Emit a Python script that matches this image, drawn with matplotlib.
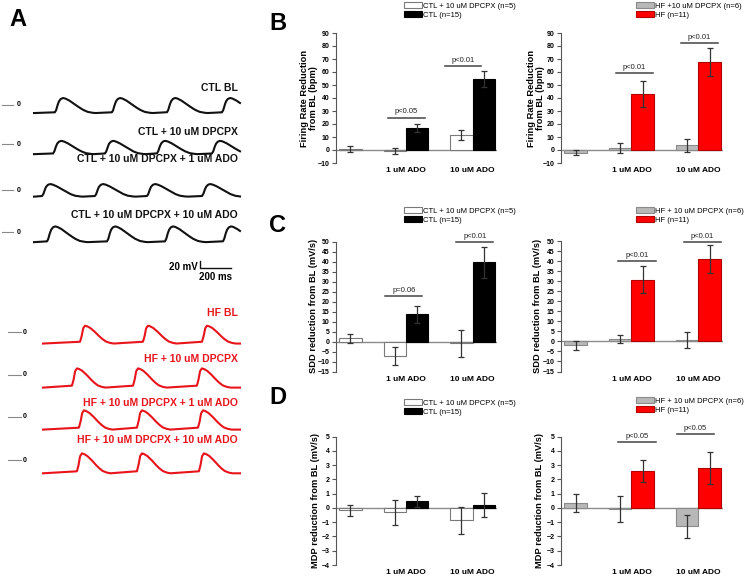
import numpy as np
import matplotlib.pyplot as plt
from matplotlib.patches import Patch

plt.rcParams['font.family'] = ['Liberation Sans', 'DejaVu Sans']

# ---------------- panel A data ----------------
ctl_labels = ["CTL BL", "CTL + 10 uM DPCPX", "CTL + 10 uM DPCPX + 1 uM ADO",
              "CTL + 10 uM DPCPX + 10 uM ADO"]
hf_labels = ["HF BL", "HF + 10 uM DPCPX", "HF + 10 uM DPCPX + 1 uM ADO",
             "HF + 10 uM DPCPX + 10 uM ADO"]

# one beat: ms after upstroke, fraction of amplitude
ctl_beat_t = [0, 8, 16, 26, 38, 52, 66, 90, 120, 150, 180, 210, 240, 260]
ctl_beat_v = [0.05, 0.2, 0.5, 0.78, 0.94, 1.0, 0.97, 0.85, 0.64, 0.42, 0.22, 0.08, 0.02, 0.0]
hf_beat_t = [0, 10, 20, 32, 45, 65, 90, 115, 140, 165, 190, 215]
hf_beat_v = [0.1, 0.4, 0.85, 1.0, 0.97, 0.88, 0.7, 0.48, 0.28, 0.12, 0.04, 0.0]

# upstroke times (ms from start of each trace)
ctl_onsets = [[135, 503, 858, 1213], [123, 458, 793, 1148],
              [52, 393, 729, 1084], [84, 471, 845, 1219]]
hf_onsets = [[239, 645, 1026], [187, 581, 993], [232, 606, 1000], [219, 606, 1006]]
ctl_mdp = [-23, -29, -19, -29]
ctl_peak = [20, 9, 17, 16]
hf_mdp = [-33, -36, -36, -38]
hf_peak = [18, 19, 19, 19]
ctl_dur = 1329
hf_dur = 1271

# ---------------- panel B-D data ----------------
groups = ["1 uM ADO", "10 uM ADO"]

fr_ctl_dpcpx = [1.0, -0.8, 11.5]
fr_ctl_dpcpx_err = [2.3, 2.0, 3.8]
fr_ctl = [17.0, 54.3]
fr_ctl_err = [3.3, 6.2]
fr_hf_dpcpx = [-2.0, 1.5, 3.6]
fr_hf_dpcpx_err = [2.0, 3.8, 4.9]
fr_hf = [42.9, 67.9]
fr_hf_err = [10.2, 10.7]

sdd_ctl_dpcpx = [1.7, -7.2, -0.8]
sdd_ctl_dpcpx_err = [2.2, 4.5, 6.7]
sdd_ctl = [13.7, 39.7]
sdd_ctl_err = [4.3, 7.8]
sdd_hf_dpcpx = [-2.0, 1.0, 0.5]
sdd_hf_dpcpx_err = [2.2, 2.0, 4.0]
sdd_hf = [30.8, 41.0]
sdd_hf_err = [6.9, 7.0]

mdp_ctl_dpcpx = [-0.15, -0.3, -0.85]
mdp_ctl_dpcpx_err = [0.38, 0.88, 0.95]
mdp_ctl = [0.47, 0.21]
mdp_ctl_err = [0.4, 0.85]
mdp_hf_dpcpx = [0.35, -0.07, -1.28]
mdp_hf_dpcpx_err = [0.63, 0.9, 0.8]
mdp_hf = [2.6, 2.8]
mdp_hf_err = [0.75, 1.15]

W, H = 750, 576
fig = plt.figure(figsize=(7.5, 5.76), dpi=100)


def rect(l, t, r, b):
    return [l / W, 1 - b / H, (r - l) / W, (b - t) / H]


RED = '#e8141c'
MS_PER_PX = 200 / 31
MV_PER_PX = 20 / 7


def build_trace(onsets, beat_t, beat_v, dur, mdp, peak):
    pts_t, pts_v = [0], [0.0]
    for on in onsets:
        pts_t += [on + t for t in beat_t]
        pts_v += list(beat_v)
    t = np.linspace(0, dur, 800)
    v = np.interp(t, pts_t, pts_v)
    return t, mdp + v * (peak - mdp)


def trace_axes(zero_y, x_start):
    ax = fig.add_axes(rect(0, zero_y - 20, 245, zero_y + 20))
    ax.set_xlim(-x_start * MS_PER_PX, (245 - x_start) * MS_PER_PX)
    ax.set_ylim(-20 * MV_PER_PX, 20 * MV_PER_PX)
    ax.axis('off')
    return ax


# CTL traces
ctl_zero = [105, 144, 190, 232]
ctl_label_y = [88, 132, 159, 215]
for i in range(4):
    ax = trace_axes(ctl_zero[i], 34)
    t, v = build_trace(ctl_onsets[i], ctl_beat_t, ctl_beat_v, ctl_dur, ctl_mdp[i], ctl_peak[i])
    ax.plot(t, v, color='#111111', lw=1.5)
    ax.plot([(2 - 34) * MS_PER_PX, (13 - 34) * MS_PER_PX], [0, 0], color='#888888', lw=0.8, clip_on=False)
    ax.text((19 - 34) * MS_PER_PX, 0, '0', fontsize=5, fontweight='bold', ha='center', va='center')
    fig.text(238 / W, 1 - ctl_label_y[i] / H, ctl_labels[i], ha='right', va='center',
             fontsize=7.5, fontweight='bold', color='#111111')
    if i == 3:
        # scale bar: 20 mV / 200 ms
        x0 = (200 - 34) * MS_PER_PX
        y0 = -(268 - 232) * MV_PER_PX
        ax.plot([x0, x0, x0 + 200], [y0 + 20, y0, y0], color='#111111', lw=1, clip_on=False)
        ax.text(x0 - 12, y0 + 2, '20 mV', ha='right', va='center', fontsize=7, fontweight='bold')
        ax.text(x0 + 100, y0 - 10, '200 ms', ha='center', va='top', fontsize=7, fontweight='bold')

# HF traces
hf_zero = [332, 375, 417, 460]
hf_label_y = [313, 359, 403, 440]
for i in range(4):
    ax = trace_axes(hf_zero[i], 43)
    t, v = build_trace(hf_onsets[i], hf_beat_t, hf_beat_v, hf_dur, hf_mdp[i], hf_peak[i])
    ax.plot(t, v, color=RED, lw=1.5)
    ax.plot([(8 - 43) * MS_PER_PX, (21 - 43) * MS_PER_PX], [0, 0], color='#888888', lw=0.8, clip_on=False)
    ax.text((25 - 43) * MS_PER_PX, 0, '0', fontsize=5, fontweight='bold', ha='center', va='center')
    fig.text(238 / W, 1 - hf_label_y[i] / H, hf_labels[i], ha='right', va='center',
             fontsize=7.5, fontweight='bold', color=RED)


# ---------------- bar panels ----------------
def bar_panel(box, pair_vals, pair_err, main_vals, main_err, pair_style, main_style,
              ylim, yticks, sigs):
    ax = fig.add_axes(rect(*box))
    pos_pair = [0, 2, 5]
    pos_main = [3, 6]
    ax.bar(pos_pair, pair_vals, width=1.0, **pair_style)
    ax.bar(pos_main, main_vals, width=1.0, **main_style)
    ax.errorbar(pos_pair, pair_vals, yerr=pair_err, fmt='none', ecolor='#333333',
                elinewidth=0.9, capsize=2.2, capthick=0.9)
    ax.errorbar(pos_main, main_vals, yerr=main_err, fmt='none', ecolor='#333333',
                elinewidth=0.9, capsize=2.2, capthick=0.9)
    ax.axhline(0, color='#8c8c8c', lw=1, zorder=0.5)
    ax.set_xlim(-0.65, 6.6)
    ax.set_ylim(*ylim)
    ax.set_yticks(yticks)
    for s in ['top', 'right', 'bottom']:
        ax.spines[s].set_visible(False)
    ax.spines['left'].set_color('#555555')
    ax.spines['left'].set_linewidth(0.8)
    ax.tick_params(axis='y', direction='out', length=3, width=0.8, color='#555555',
                   labelsize=5, pad=1.5)
    ax.set_xticks([2.5, 5.5], groups)
    ax.tick_params(axis='x', length=0, labelsize=6, pad=3)
    plt.setp(ax.get_xticklabels(), fontweight='bold')
    plt.setp(ax.get_yticklabels(), fontweight='bold')
    for text, cx, y in sigs:
        ax.plot([cx - 0.83, cx + 0.83], [y, y], color='#444444', lw=1.1, clip_on=False)
        ax.annotate(text, (cx, y), xytext=(0, 1.5), textcoords='offset points',
                    ha='center', va='bottom', fontsize=5.5, color='#222222',
                    annotation_clip=False)
    return ax


white_st = dict(color='white', edgecolor='#7a7a7a', linewidth=0.8)
black_st = dict(color='black', edgecolor='black', linewidth=0.8)
gray_st = dict(color='#b8b8b8', edgecolor='#8a8a8a', linewidth=0.8)
red_st = dict(color='#ff0000', edgecolor='#b00000', linewidth=0.8)

Lx = (336, 497)
Rx = (561, 723)

bar_panel((Lx[0], 33, Lx[1], 163), fr_ctl_dpcpx, fr_ctl_dpcpx_err, fr_ctl, fr_ctl_err,
          white_st, black_st, (-10, 90), range(-10, 91, 10),
          [("p<0.05", 2.52, 25), ("p<0.01", 5.07, 64.3)])
bar_panel((Rx[0], 33, Rx[1], 163), fr_hf_dpcpx, fr_hf_dpcpx_err, fr_hf, fr_hf_err,
          gray_st, red_st, (-10, 90), range(-10, 91, 10),
          [("p<0.01", 2.64, 59), ("p<0.01", 5.55, 82)])
bar_panel((Lx[0], 241.5, Lx[1], 371.5), sdd_ctl_dpcpx, sdd_ctl_dpcpx_err, sdd_ctl, sdd_ctl_err,
          white_st, black_st, (-15, 50), range(-15, 51, 5),
          [("p=0.06", 2.4, 22.8), ("p<0.01", 5.6, 49.7)])
bar_panel((Rx[0], 241, Rx[1], 371.5), sdd_hf_dpcpx, sdd_hf_dpcpx_err, sdd_hf, sdd_hf_err,
          gray_st, red_st, (-15, 50), range(-15, 51, 5),
          [("p<0.01", 2.75, 40.2), ("p<0.01", 5.68, 49.7)])
bar_panel((Lx[0], 436.7, Lx[1], 565), mdp_ctl_dpcpx, mdp_ctl_dpcpx_err, mdp_ctl, mdp_ctl_err,
          white_st, black_st, (-4, 5), range(-4, 6),
          [])
bar_panel((Rx[0], 436.7, Rx[1], 565), mdp_hf_dpcpx, mdp_hf_dpcpx_err, mdp_hf, mdp_hf_err,
          gray_st, red_st, (-4, 5), range(-4, 6),
          [("p<0.05", 2.75, 4.65), ("p<0.05", 5.37, 5.16)])

# y labels
ylabels = [(309, 98, "Firing Rate Reduction\nfrom BL (bpm)"),
           (536, 98, "Firing Rate Reduction\nfrom BL (bpm)"),
           (313, 306, "SDD reduction from BL (mV/s)"),
           (537, 306, "SDD reduction from BL (mV/s)"),
           (315, 501, "MDP reduction from BL (mV/s)"),
           (540, 501, "MDP reduction from BL (mV/s)")]
for x, y, s in ylabels:
    fig.text(x / W, 1 - y / H, s, rotation=90, ha='center', va='center',
             multialignment='center', fontsize=6.7, fontweight='bold', linespacing=1.1)


# legends
def legend_at(x, y, handles, labels):
    fig.legend(handles, labels, loc='upper left', bbox_to_anchor=(x / W, 1 - y / H),
               frameon=False, fontsize=5.5, handlelength=2.3, handleheight=0.8,
               handletextpad=0.2, labelspacing=0.25, borderpad=0, borderaxespad=0)


h_white = Patch(facecolor='white', edgecolor='#7a7a7a', linewidth=0.8)
h_black = Patch(facecolor='black', edgecolor='black', linewidth=0.8)
h_gray = Patch(facecolor='#b8b8b8', edgecolor='#8a8a8a', linewidth=0.8)
h_red = Patch(facecolor='#ff0000', edgecolor='#b00000', linewidth=0.8)

legend_at(404, 2, [h_white, h_black], ["CTL + 10 uM DPCPX (n=5)", "CTL (n=15)"])
legend_at(636, 2, [h_gray, h_red], ["HF +10 uM DPCPX (n=6)", "HF (n=11)"])
legend_at(404, 207, [h_white, h_black], ["CTL + 10 uM DPCPX (n=5)", "CTL (n=15)"])
legend_at(636, 207, [h_gray, h_red], ["HF + 10 uM DPCPX (n=6)", "HF (n=11)"])
legend_at(404, 399, [h_white, h_black], ["CTL + 10 uM DPCPX (n=5)", "CTL (n=15)"])
legend_at(636, 397, [h_gray, h_red], ["HF + 10 uM DPCPX (n=6)", "HF (n=11)"])

# panel letters
for x, y, s in [(18, 20, 'A'), (278, 23, 'B'), (278, 225, 'C'), (278, 397, 'D')]:
    fig.text(x / W, 1 - y / H, s, ha='center', va='center', fontsize=17, fontweight='bold')

fig.savefig('out.png', dpi=100)
